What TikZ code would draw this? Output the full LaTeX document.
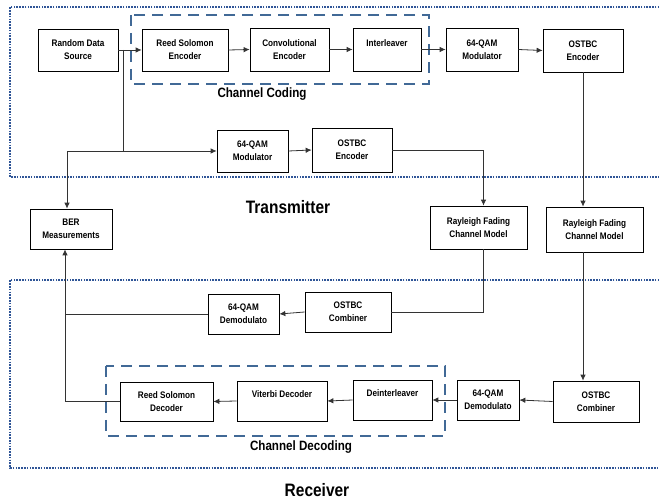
\documentclass[tikz,border=0pt]{standalone}
\usepackage{fontspec}
\setmainfont{Liberation Sans}
\newfontfamily\narrowsf[FakeStretch=0.86]{Liberation Sans}
\usetikzlibrary{arrows.meta,positioning,calc}
\definecolor{dotblue}{RGB}{47,85,151}
\definecolor{dashblue}{RGB}{65,105,150}
\tikzset{
blockbox/.style={rectangle, draw=black, line width=0.7pt, align=center, inner sep=1pt, font=\narrowsf\bfseries\fontsize{9.5}{13}\selectfont},
sectionbox/.style={draw=dotblue, line width=2pt, dash pattern=on 1.6pt off 1.2pt},
codingbox/.style={draw=dashblue, line width=2.4pt, dash pattern=on 11pt off 7pt},
grouplabel/.style={font=\narrowsf\bfseries\fontsize{13.5}{16}\selectfont},
sidelabel/.style={font=\narrowsf\bfseries\fontsize{18}{20}\selectfont},
link/.style={draw=black!80, line width=0.8pt},
>={Latex[width=5.5pt,length=6pt]}
}
\begin{document}
\begin{tikzpicture}[x=1pt, y=-1pt]
\useasboundingbox (0,0) rectangle (659,502);

%Section frames
\draw[sectionbox] (662,7) -- (10,7) -- (10,177) -- (662,177);
\draw[sectionbox] (662,280) -- (10,280) -- (10,468) -- (662,468);
\draw[codingbox] (131,15) rectangle (429,84);
\draw[codingbox] (106,366) rectangle (445,436);

%Transmitter nodes
\node[blockbox, minimum width=80pt, minimum height=42pt] (rds) at (78,50) {Random Data\\Source};
\node[blockbox, minimum width=86pt, minimum height=42pt] (rse) at (185,50) {Reed Solomon\\Encoder};
\node[blockbox, minimum width=79pt, minimum height=43pt] (cve) at (289.5,49.5) {Convolutional\\Encoder};
\node[blockbox, minimum width=68pt, minimum height=43pt] (ilv) at (387,49.5) {Interleaver\\\mbox{}};
\node[blockbox, minimum width=72pt, minimum height=43pt] (mod) at (482,49.5) {64-QAM\\Modulator};
\node[blockbox, minimum width=80pt, minimum height=43pt] (enc) at (583,50.5) {OSTBC\\Encoder};
\node[blockbox, minimum width=71pt, minimum height=42pt] (mod2) at (252.5,151) {64-QAM\\Modulator};
\node[blockbox, minimum width=80pt, minimum height=44pt] (enc2) at (352,150) {OSTBC\\Encoder};

%Channel and measurement nodes
\node[blockbox, minimum width=82pt, minimum height=40pt] (ber) at (71,229) {BER\\Measurements};
\node[blockbox, minimum width=97pt, minimum height=43pt] (ray) at (478.5,227.5) {Rayleigh Fading\\Channel Model};
\node[blockbox, minimum width=97pt, minimum height=45pt] (ray2) at (594.5,229.5) {Rayleigh Fading\\Channel Model};

%Receiver nodes
\node[blockbox, minimum width=86pt, minimum height=40pt] (comb2) at (348,312) {OSTBC\\Combiner};
\node[blockbox, minimum width=71pt, minimum height=40pt] (demod2) at (243.5,314) {64-QAM\\Demodulato};
\node[blockbox, minimum width=93pt, minimum height=39pt] (rsd) at (166.5,401.5) {Reed Solomon\\Decoder};
\node[blockbox, minimum width=90pt, minimum height=40pt] (vit) at (282,401) {Viterbi Decoder\\\mbox{}};
\node[blockbox, minimum width=79pt, minimum height=40pt] (dil) at (392.5,400) {Deinterleaver\\\mbox{}};
\node[blockbox, minimum width=62pt, minimum height=40pt] (demod) at (488,400) {64-QAM\\Demodulato};
\node[blockbox, minimum width=86pt, minimum height=41pt] (comb) at (596,401.5) {OSTBC\\Combiner};

%Labels
\node[grouplabel] (codinglabel) at (262,94) {Channel Coding};
\node[grouplabel] (decodinglabel) at (301,447) {Channel Decoding};
\node[sidelabel] (txlabel) at (288,207) {Transmitter};
\node[sidelabel] (rxlabel) at (317,490) {Receiver};

\coordinate (split) at (123,50);
\coordinate (tap) at (67,152);
\coordinate (fb) at (65,402);

%Transmitter links
\draw[link,->] (rds.east) -- (rse.west);
\draw[link,->] (rse.east) -- (cve.west);
\draw[link,->] (cve.east) -- (ilv.west);
\draw[link,->] (ilv.east) -- (mod.west);
\draw[link,->] (mod.east) -- (enc.west);
\draw[link,->] (split) |- (mod2.west);
\draw[link,->] (split |- mod2.west) -| (tap |- ber.north);
\draw[link,->] (mod2.east) -- (enc2.west);

%Channel links
\draw[link,->] (enc2.east) -| ([xshift=5pt]ray.north);
\draw[link,->] (enc.south) -- (enc.south |- ray2.north);
\draw[link] ([xshift=5pt]ray.south) |- (comb2.east);
\draw[link,->] (enc.south |- ray2.south) -- (enc.south |- comb.north);

%Receiver links
\draw[link,->] (comb2.west) -- (demod2.east);
\draw[link] (demod2.west) -- (demod2.west -| fb);
\draw[link,->] (comb.west) -- (demod.east);
\draw[link,->] (demod.west) -- (dil.east);
\draw[link,->] (dil.west) -- (vit.east);
\draw[link,->] (vit.west) -- (rsd.east);
\draw[link,->] (rsd.west) -| (fb |- ber.south);
\end{tikzpicture}
\end{document}
